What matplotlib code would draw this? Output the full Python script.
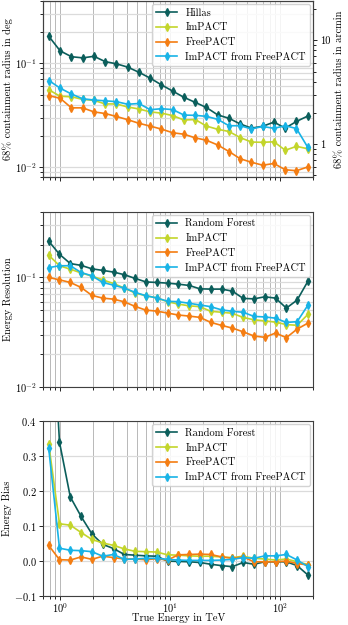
import numpy as np
import matplotlib
matplotlib.use("Agg")
import matplotlib.pyplot as plt
from matplotlib.ticker import FuncFormatter, NullFormatter

plt.rcParams['font.family'] = ['cmr10', 'DejaVu Serif']
plt.rcParams['mathtext.fontset'] = 'cm'
plt.rcParams['axes.formatter.use_mathtext'] = True
plt.rcParams['font.size'] = 7.5
plt.rcParams['axes.unicode_minus'] = True

# energy bin centres in TeV (24 bins for the angular resolution, 25 for energy)
energy_ang = [0.7875, 0.9968, 1.2617, 1.5970, 2.0213, 2.5585, 3.2384, 4.0990,
              5.1883, 6.5671, 8.3122, 10.521, 13.317, 16.856, 21.335, 27.005,
              34.181, 43.265, 54.762, 69.315, 87.735, 111.05, 140.56, 177.91]
energy_res = [0.7838, 0.9828, 1.2323, 1.5452, 1.9375, 2.4294, 3.0462, 3.8196,
              4.7893, 6.0053, 7.5299, 9.4417, 11.839, 14.844, 18.613, 23.338,
              29.264, 36.693, 46.010, 57.691, 72.338, 90.705, 113.73, 142.61,
              178.81]

# 68% containment radius in deg
ang_hillas = [0.182, 0.132, 0.116, 0.113, 0.117, 0.104, 0.099, 0.092, 0.082,
              0.072, 0.062, 0.054, 0.047, 0.042, 0.0375, 0.0318, 0.0295,
              0.026, 0.0237, 0.0247, 0.0271, 0.0237, 0.0275, 0.031]
ang_impact = [0.0555, 0.0481, 0.0476, 0.0449, 0.0439, 0.0406, 0.0406, 0.0379,
              0.0363, 0.034, 0.0331, 0.0313, 0.0284, 0.0287, 0.0248, 0.0231,
              0.022, 0.0192, 0.0174, 0.0173, 0.0175, 0.0145, 0.0158, 0.015]
ang_freepact = [0.0488, 0.046, 0.0372, 0.0372, 0.034, 0.0328, 0.0307, 0.0286,
                0.0264, 0.0248, 0.0232, 0.0214, 0.0207, 0.0191, 0.0181, 0.0163,
                0.0141, 0.012, 0.0111, 0.0104, 0.0108, 0.0094, 0.0092, 0.0100]
ang_impact_fp = [0.0683, 0.0576, 0.0506, 0.0455, 0.0443, 0.0435, 0.0427,
                 0.0403, 0.041, 0.0357, 0.0365, 0.0358, 0.0317, 0.0315, 0.0308,
                 0.0288, 0.025, 0.025, 0.0233, 0.0246, 0.0236, 0.025, 0.0235,
                 0.0155]

# energy resolution
res_rf = [0.215, 0.163, 0.134, 0.129, 0.120, 0.116, 0.112, 0.106, 0.098,
          0.091, 0.090, 0.0887, 0.0868, 0.0845, 0.0787, 0.0782, 0.0782, 0.075,
          0.0643, 0.0637, 0.0665, 0.0647, 0.0524, 0.0621, 0.0925]
res_impact = [0.160, 0.128, 0.119, 0.110, 0.103, 0.095, 0.088, 0.080, 0.072,
              0.068, 0.065, 0.060, 0.057, 0.055, 0.054, 0.049, 0.048, 0.047,
              0.043, 0.041, 0.040, 0.039, 0.037, 0.0365, 0.046]
res_freepact = [0.100, 0.0951, 0.090, 0.081, 0.0685, 0.0647, 0.0633, 0.0598,
                0.0543, 0.0502, 0.0492, 0.0472, 0.0453, 0.0443, 0.0431, 0.0388,
                0.0364, 0.0344, 0.0318, 0.0291, 0.0283, 0.031, 0.0281, 0.0337,
                0.0382]
res_impact_fp = [0.123, 0.128, 0.128, 0.111, 0.1035, 0.090, 0.085, 0.080,
                 0.073, 0.068, 0.065, 0.0605, 0.060, 0.058, 0.056, 0.054,
                 0.0505, 0.049, 0.048, 0.044, 0.0435, 0.0424, 0.0387, 0.0394,
                 0.0558]

# energy bias
bias_rf = [0.9, 0.340, 0.183, 0.127, 0.077, 0.047, 0.035, 0.018, 0.016,
           0.014, 0.013, -0.001, -0.002, -0.003, -0.005, -0.010, -0.014,
           -0.017, -0.005, -0.010, -0.003, -0.003, -0.003, -0.014, -0.041]
bias_impact = [0.335, 0.106, 0.102, 0.081, 0.061, 0.051, 0.044, 0.034, 0.027,
               0.026, 0.025, 0.017, 0.016, 0.014, 0.013, 0.013, 0.011, 0.009,
               0.013, 0.007, 0.005, 0.002, 0.005, -0.003, -0.011]
bias_freepact = [0.044, 0.003, 0.002, 0.011, 0.004, 0.013, 0.009, 0.005,
                 0.005, 0.003, 0.006, 0.002, 0.017, 0.018, 0.019, 0.018, 0.011,
                 0.007, 0.011, -0.003, -0.003, -0.003, -0.001, -0.008, -0.012]
bias_impact_fp = [0.323, 0.036, 0.030, 0.029, 0.026, 0.013, 0.018, 0.004,
                  0.005, 0.007, 0.007, 0.004, 0.002, 0.001, 0.001, 0.001,
                  0.002, 0.004, 0.009, 0.007, 0.014, 0.014, 0.018, 0.002,
                  -0.017]

c_rf = '#0b5e5b'
c_impact = '#c3d52b'
c_free = '#f47d12'
c_ifp = '#18b3e6'

fig = plt.figure(figsize=(3.48, 6.25), dpi=100)
ax1 = fig.add_axes([0.1244, 0.7168, 0.7759, 0.2816])
ax2 = fig.add_axes([0.1244, 0.3813, 0.7759, 0.2800], sharex=ax1)
ax3 = fig.add_axes([0.1244, 0.0470, 0.7759, 0.2790], sharex=ax1)

style = dict(marker='d', markersize=4.2, lw=1.2)

ax1.plot(energy_ang, ang_hillas, color=c_rf, label='Hillas', **style)
ax1.plot(energy_ang, ang_impact, color=c_impact, label='ImPACT', **style)
ax1.plot(energy_ang, ang_freepact, color=c_free, label='FreePACT', **style)
ax1.plot(energy_ang, ang_impact_fp, color=c_ifp, label='ImPACT from FreePACT', **style)

for ax, ys in ((ax2, (res_rf, res_impact, res_freepact, res_impact_fp)),
               (ax3, (bias_rf, bias_impact, bias_freepact, bias_impact_fp))):
    ax.plot(energy_res, ys[0], color=c_rf, label='Random Forest', **style)
    ax.plot(energy_res, ys[1], color=c_impact, label='ImPACT', **style)
    ax.plot(energy_res, ys[2], color=c_free, label='FreePACT', **style)
    ax.plot(energy_res, ys[3], color=c_ifp, label='ImPACT from FreePACT', **style)

ax1.set_xscale('log')
ax1.set_xlim(0.7, 200)

ax1.set_yscale('log')
ax1.set_ylim(0.008, 0.4)
ax1.set_ylabel('68% containment radius in deg', labelpad=1)

ax1r = ax1.twinx()
ax1r.set_yscale('log')
ax1r.set_ylim(0.008 * 60, 0.4 * 60)
ax1r.yaxis.set_major_formatter(FuncFormatter(lambda v, p: f'{v:g}'))
ax1r.yaxis.set_minor_formatter(NullFormatter())
ax1r.set_ylabel('68% containment radius in arcmin', labelpad=3)

ax2.set_yscale('log')
ax2.set_ylim(0.01, 0.4)
ax2.set_ylabel('Energy Resolution', labelpad=1)

ax3.set_ylim(-0.1, 0.4)
ax3.set_yticks([-0.1, 0.0, 0.1, 0.2, 0.3, 0.4])
ax3.set_ylabel('Energy Bias', labelpad=1)
ax3.set_xlabel('True Energy in TeV', labelpad=-1)

for ax in (ax1, ax2):
    plt.setp(ax.get_xticklabels(), visible=False)

for ax in (ax1, ax2, ax3):
    ax.grid(True, which='both', axis='x', color='0.72', lw=0.7)
    ax.grid(True, which='both', axis='y', color='0.86', lw=0.9)
    ax.set_axisbelow(True)
    ax.tick_params(which='both', direction='out', length=3, width=0.6, pad=2)
    ax.tick_params(which='minor', length=2)
    for s in ax.spines.values():
        s.set_color('0.25')
        s.set_linewidth(0.8)
    ax.legend(loc='upper right', fontsize=7.5, framealpha=0.85,
              edgecolor='0.8', borderaxespad=0.3)
ax3.tick_params(axis='x', which='both', pad=1)
for s in ax1r.spines.values():
    s.set_color('0.25')
    s.set_linewidth(0.8)
ax1r.tick_params(which='both', length=3, width=0.6, pad=2)
ax1r.tick_params(which='minor', length=2)

fig.savefig('out.png', dpi=100)
